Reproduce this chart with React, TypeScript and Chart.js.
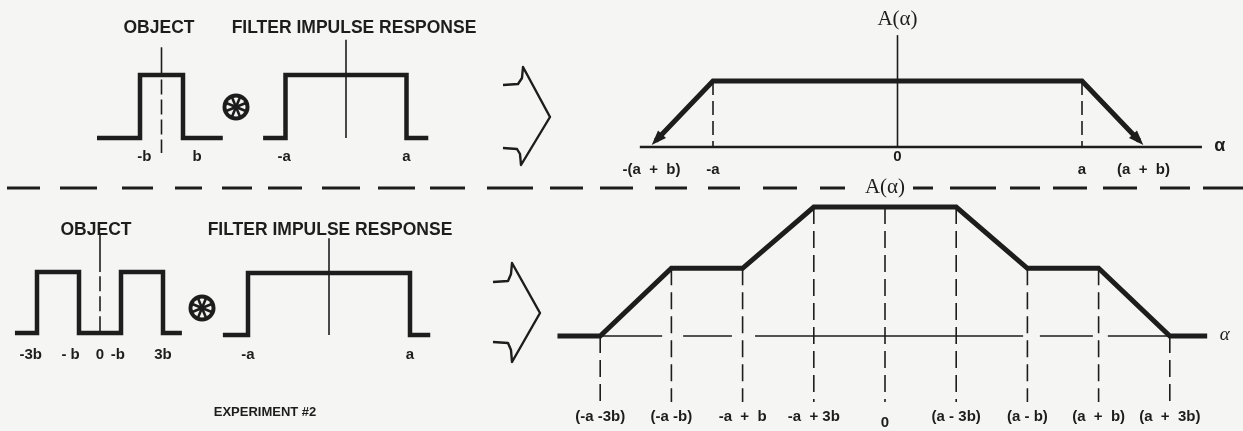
import { useEffect, useRef } from "react";
import { Chart, registerables } from "chart.js";

Chart.register(...registerables);

const W = 1243;
const H = 431;
const INK = "#1d1d1d";
const PAPER = "#f5f5f3";
const SANS = '"Liberation Sans", Arial, sans-serif';
const SERIF = '"Liberation Serif", "Times New Roman", serif';

// ---------- Top experiment (single slit object) ----------
const topObjectX = [-3, -1, -1, 1, 1, 2.85];
const topObjectY = [0, 0, 1, 1, 0, 0];
const topObjectLabelX = [-0.8, 1.65];
const topObjectLabels = ["-b", "b"];

const topFilterX = [-1.37, -1, -1, 1, 1, 1.36];
const topFilterY = [0, 0, 1, 1, 0, 0];
const topFilterLabelX = [-1.02, 1];
const topFilterLabels = ["-a", "a"];

// A(α), with a = 3, b = 1
const topResultX = [-3.93, -3, 3, 3.93];
const topResultY = [0.19, 2, 2, 0.19];
const topResultAxisX = [-4.19, 4.95];
const topResultAxisTop = 3.39;
const topResultDropX = [-3, 3];
const topResultDropTop = [2, 2];
const topResultLabelX = [-4, -3, 0, 3, 4];
const topResultLabels = ["-(a  +  b)", "-a", "0", "a", "(a  +  b)"];

// ---------- Bottom experiment (double slit object) ----------
const botObjectX = [-4.05, -3, -3, -1, -1, 1, 1, 3, 3, 3.9];
const botObjectY = [0, 0, 1, 1, 0, 0, 1, 1, 0, 0];
const botObjectLabelX = [-3.3, -1.4, 0, 0.85, 3];
const botObjectLabels = ["-3b", "- b", "0", "-b", "3b"];

const botFilterX = [-1.31, -1, -1, 1, 1, 1.25];
const botFilterY = [0, 0, 1, 1, 0, 0];
const botFilterLabelX = [-1, 1];
const botFilterLabels = ["-a", "a"];

// A(α), with a = 5, b = 1
const botResultX = [-9.2, -8, -6, -4, -2, 2, 4, 6, 8, 9.05];
const botResultY = [0, 0, 2.1, 2.1, 4, 4, 2.1, 2.1, 0, 0];
const botTickX = [-8, -6, -4, -2, 0, 2, 4, 6, 8];
const botTickTop = [0, 2.1, 2.1, 4, 4, 4, 2.1, 2.1, 0];
const botTickLabels = [
  "(-a -3b)",
  "(-a -b)",
  "-a  +  b",
  "-a  + 3b",
  "0",
  "(a - 3b)",
  "(a - b)",
  "(a  +  b)",
  "(a  +  3b)",
];
const botAxisSegStart = [-7.95, -5.67, -3.65, 4.35, 6.26];
const botAxisSegEnd = [-6.26, -4.3, 3.88, 5.84, 8.0];

// ---------- Page decorations (page units) ----------
const dividerStart = [7, 60, 122, 175, 222, 268, 322, 378, 430, 487, 550, 600, 655, 708, 763, 820, 913, 950, 1010, 1053, 1103, 1160, 1203];
const dividerEnd = [40, 97, 153, 202, 252, 302, 360, 415, 465, 533, 583, 633, 687, 740, 797, 845, 933, 996, 1040, 1087, 1137, 1190, 1243];
const dividerY = 188;
const topChevronX = [503, 518, 522, 523, 550, 521, 520, 517, 503];
const topChevronY = [85, 84, 78, 67, 117, 165, 154, 149, 148];
const botChevronX = [493, 508, 511, 512, 540, 512, 511, 508, 493];
const botChevronY = [282, 281, 274, 263, 313, 362, 350, 343, 342];
const convSymbolX = [236, 202];
const convSymbolY = [107, 308];

// ---------- scale fitting helpers ----------
function fitX(v1: number, p1: number, v2: number, p2: number) {
  const k = (p2 - p1) / (v2 - v1);
  const min = v1 - p1 / k;
  return { min, max: min + W / k };
}
function fitY(v1: number, p1: number, v2: number, p2: number) {
  const k = (p1 - p2) / (v2 - v1);
  const max = v1 + p1 / k;
  return { min: max - H / k, max };
}
function lin(axis: "x" | "y", r: { min: number; max: number }, reverse = false) {
  return {
    type: "linear",
    axis,
    display: false,
    position: axis === "x" ? "bottom" : "left",
    min: r.min,
    max: r.max,
    reverse,
    grace: 0,
  };
}

const pts = (xs: number[], ys: number[]) => xs.map((x, i) => ({ x, y: ys[i] }));

function line(
  xs: number[],
  ys: number[],
  xa: string,
  ya: string,
  width: number,
  dash: number[] = [],
  extra: any = {}
) {
  return {
    data: pts(xs, ys),
    xAxisID: xa,
    yAxisID: ya,
    showLine: true,
    borderColor: INK,
    backgroundColor: INK,
    borderWidth: width,
    borderDash: dash,
    borderJoinStyle: "miter",
    borderCapStyle: "butt",
    pointRadius: 0,
    pointHoverRadius: 0,
    fill: false,
    tension: 0,
    spanGaps: false,
    ...extra,
  };
}

function segments(starts: number[], ends: number[], yv: number) {
  const out: any[] = [];
  starts.forEach((s, i) => {
    out.push({ x: s, y: yv }, { x: ends[i], y: yv });
    if (i < starts.length - 1) out.push({ x: (ends[i] + starts[i + 1]) / 2, y: null });
  });
  return out;
}

function makeSymbol() {
  const c = document.createElement("canvas");
  c.width = 30;
  c.height = 30;
  const g = c.getContext("2d")!;
  g.fillStyle = INK;
  g.beginPath();
  g.arc(15, 15, 13.5, 0, Math.PI * 2);
  g.fill();
  g.fillStyle = PAPER;
  g.beginPath();
  g.arc(15, 15, 9.6, 0, Math.PI * 2);
  g.fill();
  g.strokeStyle = INK;
  g.lineWidth = 2.6;
  for (let k = 0; k < 8; k++) {
    const t = (k * Math.PI) / 4 + Math.PI / 8;
    g.beginPath();
    g.moveTo(15, 15);
    g.lineTo(15 + 10.5 * Math.cos(t), 15 + 10.5 * Math.sin(t));
    g.stroke();
  }
  g.fillStyle = INK;
  g.beginPath();
  g.arc(15, 15, 3, 0, Math.PI * 2);
  g.fill();
  return c;
}

type Txt = { xs: string; ys: string; x: number; y: number; dy?: number; text: string; font: string; align?: CanvasTextAlign };

function tickTexts(xs: string, ys: string, vals: number[], labels: string[], dy: number, font: string, overrides: Record<string, number> = {}): Txt[] {
  return vals.map((v, i) => ({
    xs,
    ys,
    x: v,
    y: 0,
    dy: overrides[labels[i]] ?? dy,
    text: labels[i],
    font,
  }));
}

const bgPlugin = {
  id: "paper",
  beforeDraw(chart: any) {
    const ctx = chart.ctx;
    ctx.save();
    ctx.fillStyle = PAPER;
    ctx.fillRect(0, 0, chart.width, chart.height);
    ctx.restore();
  },
};

const arrowPlugin = {
  id: "arrowEnds",
  afterDatasetsDraw(chart: any) {
    const ctx = chart.ctx;
    chart.data.datasets.forEach((ds: any, i: number) => {
      if (!ds.arrowEnds) return;
      const p = chart.getDatasetMeta(i).data;
      const ends = [
        [p[1], p[0]],
        [p[p.length - 2], p[p.length - 1]],
      ];
      ctx.save();
      ctx.fillStyle = INK;
      for (const [a, b] of ends) {
        const dx = b.x - a.x;
        const dy = b.y - a.y;
        const L = Math.hypot(dx, dy);
        const ux = dx / L;
        const uy = dy / L;
        const tx = b.x + ux * 6;
        const ty = b.y + uy * 6;
        const bx = b.x - ux * 9;
        const by = b.y - uy * 9;
        const hw = 5.5;
        ctx.beginPath();
        ctx.moveTo(tx, ty);
        ctx.lineTo(bx - uy * hw, by + ux * hw);
        ctx.lineTo(bx + uy * hw, by - ux * hw);
        ctx.closePath();
        ctx.fill();
      }
      ctx.restore();
    });
  },
};

const textPlugin = {
  id: "texts",
  afterDatasetsDraw(chart: any, _args: any, opts: any) {
    const ctx = chart.ctx;
    ctx.save();
    ctx.fillStyle = INK;
    ctx.textBaseline = "middle";
    for (const t of opts.items as Txt[]) {
      const sx = chart.scales[t.xs];
      const sy = chart.scales[t.ys];
      const px = sx.getPixelForValue(t.x);
      const py = sy.getPixelForValue(t.y) + (t.dy || 0);
      ctx.font = t.font;
      ctx.textAlign = t.align || "center";
      ctx.fillText(t.text, px, py);
    }
    ctx.restore();
  },
};

export default function App() {
  const ref = useRef<HTMLCanvasElement | null>(null);

  useEffect(() => {
    document.body.style.margin = "0";
    document.body.style.background = PAPER;
    const canvas = ref.current!;
    const sym = makeSymbol();

    const scales: any = {
      px: lin("x", { min: 0, max: W }),
      py: lin("y", { min: 0, max: H }, true),
      xTL: lin("x", fitX(0, 161.5, 1, 183)),
      yTL: lin("y", fitY(0, 138, 1, 75)),
      xTF: lin("x", fitX(0, 346, 1, 406.5)),
      yTF: lin("y", fitY(0, 138, 1, 75)),
      xTR: lin("x", fitX(0, 897.5, 1, 959)),
      yTR: lin("y", fitY(0, 147, 2, 81)),
      xBL: lin("x", fitX(0, 100, 1, 121)),
      yBL: lin("y", fitY(0, 333, 1, 272)),
      xBF: lin("x", fitX(0, 329, 1, 410)),
      yBF: lin("y", fitY(0, 335, 1, 273)),
      xBR: lin("x", fitX(0, 885, 1, 920.6)),
      yBR: lin("y", fitY(0, 336, 4, 207)),
    };

    const datasets: any[] = [
      // top object
      line(topObjectX, topObjectY, "xTL", "yTL", 4.5),
      line([0, 0], [1, 1.44], "xTL", "yTL", 1.6),
      line([0, 0], [0.93, -0.24], "xTL", "yTL", 1.6, [15, 5]),
      // top filter
      line(topFilterX, topFilterY, "xTF", "yTF", 4.5),
      line([0, 0], [0, 1.56], "xTF", "yTF", 1.6),
      // top result
      line(topResultAxisX, [0, 0], "xTR", "yTR", 2.4),
      line([0, 0], [0, topResultAxisTop], "xTR", "yTR", 1.6),
      ...topResultDropX.map((x, i) => line([x, x], [topResultDropTop[i], 0], "xTR", "yTR", 1.6, [14, 6])),
      line(topResultX, topResultY, "xTR", "yTR", 5, [], { arrowEnds: true }),
      // bottom object
      line(botObjectX, botObjectY, "xBL", "yBL", 4.5),
      line([0, 0], [1, 1.64], "xBL", "yBL", 1.6),
      line([0, 0], [0.93, 0], "xBL", "yBL", 1.6, [15, 5]),
      // bottom filter
      line(botFilterX, botFilterY, "xBF", "yBF", 4.5),
      line([0, 0], [0, 1.56], "xBF", "yBF", 1.6),
      // bottom result
      {
        ...line([], [], "xBR", "yBR", 1.6),
        data: segments(botAxisSegStart, botAxisSegEnd, 0),
      },
      ...botTickX.map((x, i) => line([x, x], [botTickTop[i], -2.05], "xBR", "yBR", 1.6, [17, 7])),
      line(botResultX, botResultY, "xBR", "yBR", 5),
      // divider (hand-drawn dashes)
      {
        ...line([], [], "px", "py", 3),
        data: segments(dividerStart, dividerEnd, dividerY),
      },
      // chevrons
      line(topChevronX, topChevronY, "px", "py", 2.4, [], { borderJoinStyle: "round" }),
      line(botChevronX, botChevronY, "px", "py", 2.4, [], { borderJoinStyle: "round" }),
      // convolution symbols
      {
        data: pts(convSymbolX, convSymbolY),
        xAxisID: "px",
        yAxisID: "py",
        showLine: false,
        pointStyle: sym,
        pointRadius: 14,
        pointHoverRadius: 14,
      },
    ];

    const titleFont = `bold 17.5px ${SANS}`;
    const tickFontL = `bold 15px ${SANS}`;
    const tickFontR = `bold 15px ${SANS}`;
    const items: Txt[] = [
      { xs: "px", ys: "py", x: 159, y: 28, text: "OBJECT", font: titleFont },
      { xs: "px", ys: "py", x: 354, y: 28, text: "FILTER IMPULSE RESPONSE", font: titleFont },
      { xs: "px", ys: "py", x: 96, y: 230, text: "OBJECT", font: titleFont },
      { xs: "px", ys: "py", x: 330, y: 230, text: "FILTER IMPULSE RESPONSE", font: titleFont },
      { xs: "px", ys: "py", x: 265, y: 412, text: "EXPERIMENT #2", font: `bold 13px ${SANS}` },
      ...tickTexts("xTL", "yTL", topObjectLabelX, topObjectLabels, 19, tickFontL),
      ...tickTexts("xTF", "yTF", topFilterLabelX, topFilterLabels, 19, tickFontL),
      ...tickTexts("xTR", "yTR", topResultLabelX, topResultLabels, 23, tickFontR, { "0": 10 }),
      { xs: "xTR", ys: "yTR", x: 0, y: topResultAxisTop, dy: -16, text: "A(α)", font: `21px ${SERIF}` },
      { xs: "xTR", ys: "yTR", x: topResultAxisX[1] + 0.2, y: 0, dy: -1, text: "α", font: `bold 18px ${SANS}`, align: "left" },
      ...tickTexts("xBL", "yBL", botObjectLabelX, botObjectLabels, 22, tickFontL),
      ...tickTexts("xBF", "yBF", botFilterLabelX, botFilterLabels, 20, tickFontL),
      ...tickTexts("xBR", "yBR", botTickX, botTickLabels, 81, tickFontR, { "0": 87 }),
      { xs: "xBR", ys: "py", x: 0, y: dividerY, dy: -1, text: "A(α)", font: `21px ${SERIF}` },
      { xs: "xBR", ys: "yBR", x: botResultX[botResultX.length - 1] + 0.35, y: 0, dy: -1, text: "α", font: `italic 19px ${SERIF}`, align: "left" },
    ];

    const chart = new Chart(canvas, {
      type: "scatter",
      data: { datasets },
      options: {
        animation: false,
        responsive: false,
        devicePixelRatio: 1,
        events: [],
        layout: { padding: 0, autoPadding: false },
        scales,
        plugins: {
          legend: { display: false },
          tooltip: { enabled: false },
          texts: { items },
        } as any,
      },
      plugins: [bgPlugin, arrowPlugin, textPlugin],
    } as any);

    return () => chart.destroy();
  }, []);

  return (
    <div style={{ position: "absolute", left: 0, top: 0, width: W, height: H, background: PAPER }}>
      <canvas ref={ref} width={W} height={H} style={{ display: "block", width: W, height: H }} />
    </div>
  );
}
